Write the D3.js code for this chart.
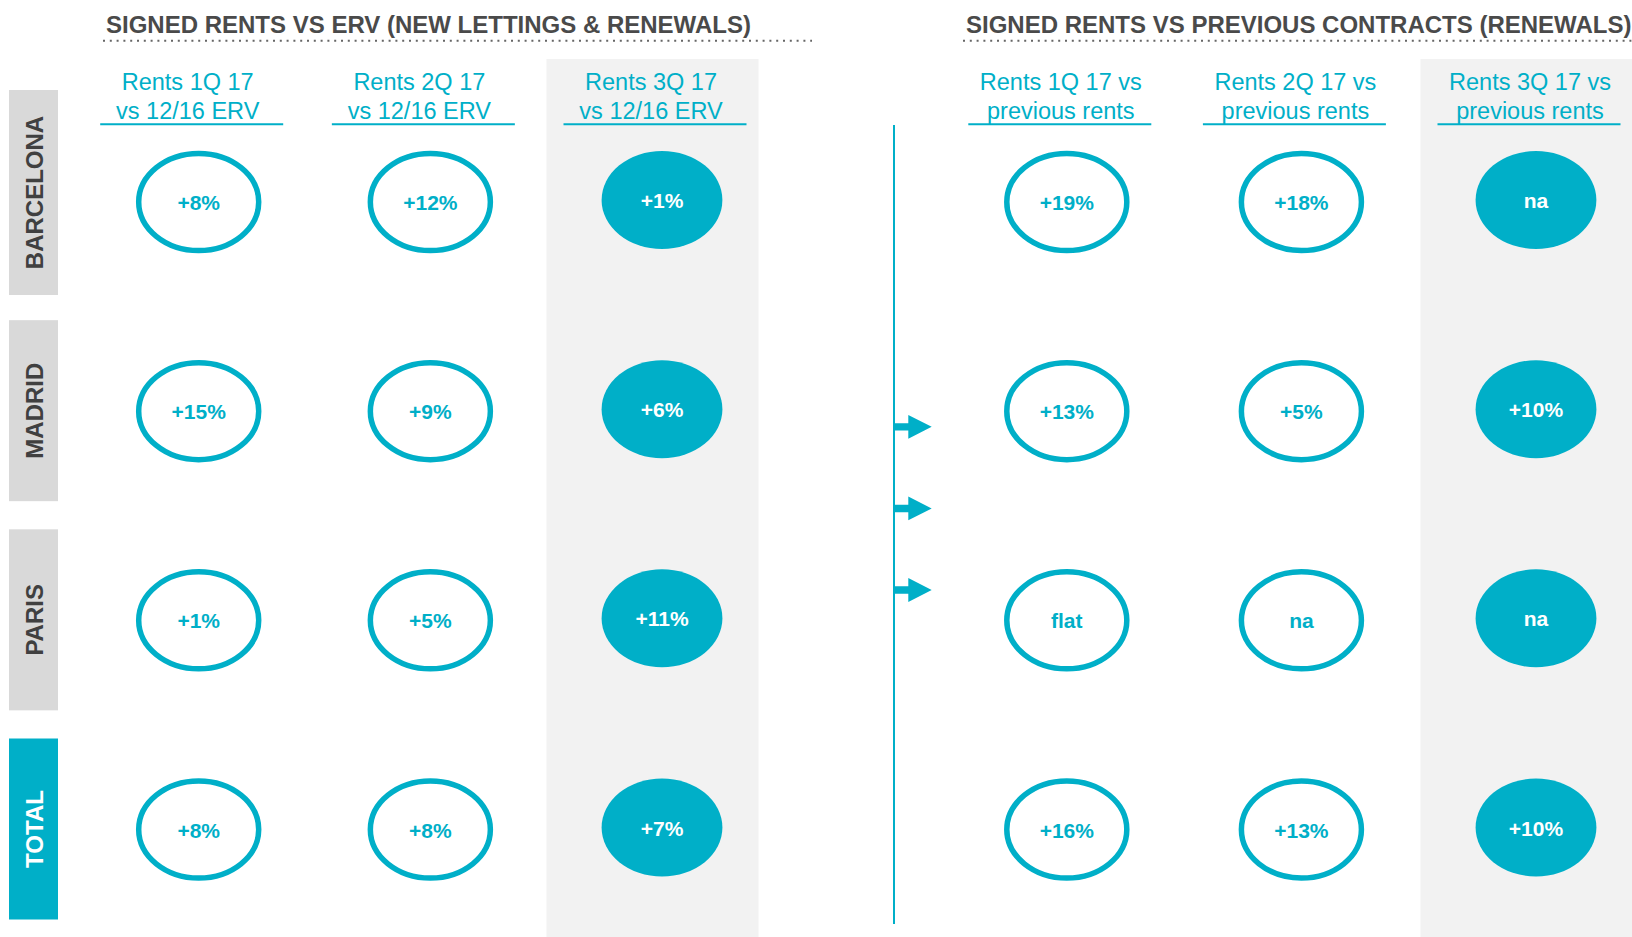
<!DOCTYPE html>
<html>
<head>
<meta charset="utf-8">
<script src="https://cdn.jsdelivr.net/npm/d3@7"></script>
<style>
  body { margin: 0; background: #fff; }
  text { font-family: "Liberation Sans", Arial, sans-serif; }
</style>
</head>
<body>
<svg class="chart"></svg>
<script>
// data
var titles = ["SIGNED RENTS VS ERV (NEW LETTINGS & RENEWALS)", "SIGNED RENTS VS PREVIOUS CONTRACTS (RENEWALS)"];
var rowLabels = ["BARCELONA", "MADRID", "PARIS", "TOTAL"];
var ervHeaders = [["Rents 1Q 17", "vs 12/16 ERV"], ["Rents 2Q 17", "vs 12/16 ERV"], ["Rents 3Q 17", "vs 12/16 ERV"]];
var prevHeaders = [["Rents 1Q 17 vs", "previous rents"], ["Rents 2Q 17 vs", "previous rents"], ["Rents 3Q 17 vs", "previous rents"]];
var ervValues = [["+8%", "+12%", "+1%"], ["+15%", "+9%", "+6%"], ["+1%", "+5%", "+11%"], ["+8%", "+8%", "+7%"]];
var prevValues = [["+19%", "+18%", "na"], ["+13%", "+5%", "+10%"], ["flat", "na", "na"], ["+16%", "+13%", "+10%"]];
var highlightCol = 2;
var arrowRows = [1.075, 1.465, 1.855];

function show() {

    'use strict';

    var width = 1632, height = 937,
        teal = "#00AFC8";

    var svg = d3.select(".chart")
        .attr("width", width)
        .attr("height", height);

    var y = d3.scaleLinear().domain([0, rowLabels.length - 1]).range([202, 829.5]);

    var groups = [
        {title: titles[0], headers: ervHeaders, values: ervValues, titleX: 106, dots: [103, 812], headShift: -11,
         x: d3.scaleLinear().domain([0, 2]).range([198.7, 662])},
        {title: titles[1], headers: prevHeaders, values: prevValues, titleX: 966, dots: [963, 1632], headShift: -6,
         x: d3.scaleLinear().domain([0, 2]).range([1066.8, 1536])}
    ];

    // shaded band behind the latest quarter
    svg.append("g").selectAll("rect").data(groups).enter()
        .append("rect")
        .attr("x", function(g) { return g.x(highlightCol) - 115.5 })
        .attr("y", 59)
        .attr("width", 212)
        .attr("height", height - 59)
        .attr("fill", "#F2F2F2");

    groups.forEach(function(g) {
        var grp = svg.append("g");

        grp.append("text")
            .attr("x", g.titleX)
            .attr("y", 32.5)
            .attr("font-size", 24)
            .attr("font-weight", "bold")
            .attr("fill", "#4a4a4a")
            .text(g.title);

        grp.append("line")
            .attr("x1", g.dots[0]).attr("x2", g.dots[1])
            .attr("y1", 40.7).attr("y2", 40.7)
            .attr("stroke", "#666")
            .attr("stroke-width", 2)
            .attr("stroke-dasharray", "2 4.8");

        var head = grp.selectAll(".head").data(g.headers).enter()
            .append("g").attr("class", "head");

        head.append("text")
            .attr("text-anchor", "middle")
            .attr("font-size", 23.5)
            .attr("fill", teal)
            .selectAll("tspan").data(function(d, i) { return d.map(function(t) { return {t: t, i: i} }) })
            .enter().append("tspan")
            .attr("x", function(d) { return g.x(d.i) + g.headShift })
            .attr("y", function(d, j) { return 90 + j * 29 })
            .text(function(d) { return d.t });

        head.append("line")
            .attr("x1", function(d, i) { return g.x(i) - 7 - 91.5 })
            .attr("x2", function(d, i) { return g.x(i) - 7 + 91.5 })
            .attr("y1", 124.3).attr("y2", 124.3)
            .attr("stroke", teal)
            .attr("stroke-width", 2);

        var cells = [];
        g.values.forEach(function(row, r) {
            row.forEach(function(v, c) { cells.push({r: r, c: c, v: v, fill: c === highlightCol}) });
        });

        var cell = grp.selectAll(".cell").data(cells).enter()
            .append("g").attr("class", "cell");

        cell.append("ellipse")
            .attr("cx", function(d) { return g.x(d.c) })
            .attr("cy", function(d) { return d.fill ? y(d.r) - 2 : y(d.r) })
            .attr("rx", function(d) { return d.fill ? 60.4 : 60 })
            .attr("ry", function(d) { return d.fill ? 49 : 48.5 })
            .attr("fill", function(d) { return d.fill ? teal : "#fff" })
            .attr("stroke", function(d) { return d.fill ? "none" : teal })
            .attr("stroke-width", 5.5);

        cell.append("text")
            .attr("x", function(d) { return g.x(d.c) })
            .attr("y", function(d) { return y(d.r) + 8 - (d.fill ? 2 : 0) })
            .attr("text-anchor", "middle")
            .attr("font-size", 21)
            .attr("font-weight", "bold")
            .attr("fill", function(d) { return d.fill ? "#fff" : teal })
            .text(function(d) { return d.v });
    });

    // row labels
    var lab = svg.append("g").selectAll("g").data(rowLabels).enter().append("g");
    var last = rowLabels.length - 1;

    lab.append("rect")
        .attr("x", 9)
        .attr("width", 49)
        .attr("y", function(d, i) { return i === 0 ? 90 : y(i) - 91 })
        .attr("height", function(d, i) { return i === 0 ? y(i) + 93 - 90 : 181 })
        .attr("fill", function(d, i) { return i === last ? teal : "#D9D9D9" });

    lab.append("text")
        .attr("transform", function(d, i) {
            var cy = i === 0 ? (90 + y(i) + 93) / 2 : y(i) - 0.5;
            return "translate(" + 34 + "," + cy + ") rotate(-90)";
        })
        .attr("text-anchor", "middle")
        .attr("dy", "0.36em")
        .attr("font-size", 24)
        .attr("font-weight", "bold")
        .attr("fill", function(d, i) { return i === last ? "#fff" : "#404040" })
        .text(function(d) { return d });

    // divider with arrows
    var lineX = 894;
    svg.append("line")
        .attr("x1", lineX).attr("x2", lineX)
        .attr("y1", 125).attr("y2", 924)
        .attr("stroke", teal)
        .attr("stroke-width", 2);

    svg.append("g").selectAll("path").data(arrowRows).enter()
        .append("path")
        .attr("fill", teal)
        .attr("d", function(r) {
            var cy = y(r);
            return "M" + lineX + "," + (cy - 3.7) + "L" + (lineX + 14.3) + "," + (cy - 3.7)
                + "L" + (lineX + 14.3) + "," + (cy - 11.9) + "L" + (lineX + 37.7) + "," + cy
                + "L" + (lineX + 14.3) + "," + (cy + 11.9) + "L" + (lineX + 14.3) + "," + (cy + 3.7)
                + "L" + lineX + "," + (cy + 3.7) + "Z";
        });
}

show();
</script>
</body>
</html>
